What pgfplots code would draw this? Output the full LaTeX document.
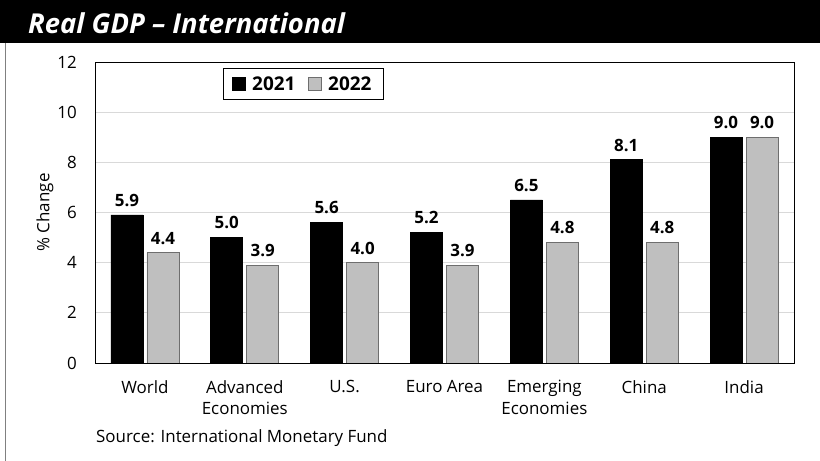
\documentclass[border=0pt]{standalone}
\usepackage{pgfplots}
\pgfplotsset{compat=1.18}
\usepackage{fontspec}
\setmainfont{Open Sans}
\definecolor{barg}{HTML}{BFBFBF}
\definecolor{bare}{HTML}{6E6E6E}
\definecolor{gridc}{HTML}{D9D9D9}
\pgfplotstableread{
x y2021 y2022
0 5.9 4.4
1 5.0 3.9
2 5.6 4.0
3 5.2 3.9
4 6.5 4.8
5 8.1 4.8
6 9.0 9.0
}\gdpdata
\begin{document}
\begin{tikzpicture}[x=1bp,y=1bp]
\useasboundingbox (0,0) rectangle (820,461);
\fill[black] (0,418) rectangle (820,461);
\node[anchor=west, text=white, font=\fontsize{27.5}{31}\selectfont\bfseries\itshape, inner sep=0pt] at (28,438) {Real GDP – International};
\draw[gray, line width=1bp] (5.5,0) -- (5.5,418);
\node[anchor=west, inner sep=0pt, font=\fontsize{17}{20}\selectfont] at (96,23) {Source: International Monetary Fund};
\begin{axis}[
  at={(95bp,98bp)}, anchor=south west, scale only axis,
  width=699bp, height=301bp,
  xmin=-0.5, xmax=6.5, ymin=0, ymax=12,
  ytick={0,2,...,12},
  xtick={0,...,6},
  xticklabels={World,Advanced\\Economies,U.S.,Euro Area,Emerging\\Economies,China,India},
  /pgf/number format/assume math mode=true,
  major tick length=0pt,
  axis line style={black, line width=0.8bp},
  ymajorgrids, grid style={gridc, line width=0.8bp},
  xticklabel style={align=center, font=\fontsize{17}{22}\selectfont, inner sep=0pt, anchor=north, yshift=-17bp},
  yticklabel style={font=\fontsize{17}{20}\selectfont, inner sep=0pt, anchor=east, xshift=-18bp},
  ylabel={\% Change},
  ylabel style={at={(axis description cs:-0.0715,0.5)}, anchor=center, font=\fontsize{17}{20}\selectfont},
  ybar=4bp, bar width=32bp,
  nodes near coords={\pgfmathprintnumber[fixed,fixed zerofill,precision=1]{\pgfplotspointmeta}},
  nodes near coords style={font=\fontsize{17}{20}\selectfont\bfseries, anchor=south, inner sep=0pt, yshift=8bp, text=black},
  legend style={at={(rel axis cs:0.1831,0.98)}, anchor=north west, draw=black, line width=0.8bp,
    font=\fontsize{19}{22}\selectfont\bfseries, legend columns=2, inner xsep=9bp, inner ysep=6bp,
    nodes={inner xsep=3bp},
    /tikz/every odd column/.append style={column sep=3bp},
    /tikz/every even column/.append style={column sep=10bp}},
  legend cell align=left,
]
\addplot[fill=black, draw=black, line width=0.8bp,
  legend image code/.code={\draw[fill=black,draw=black] (0bp,-6.5bp) rectangle (13bp,6.5bp);}]
  table[x=x, y=y2021] {\gdpdata};
\addplot[fill=barg, draw=bare, line width=0.8bp,
  legend image code/.code={\draw[fill=barg,draw=bare] (0bp,-6.5bp) rectangle (13bp,6.5bp);}]
  table[x=x, y=y2022] {\gdpdata};
\legend{2021,2022}
\end{axis}
\end{tikzpicture}
\end{document}
